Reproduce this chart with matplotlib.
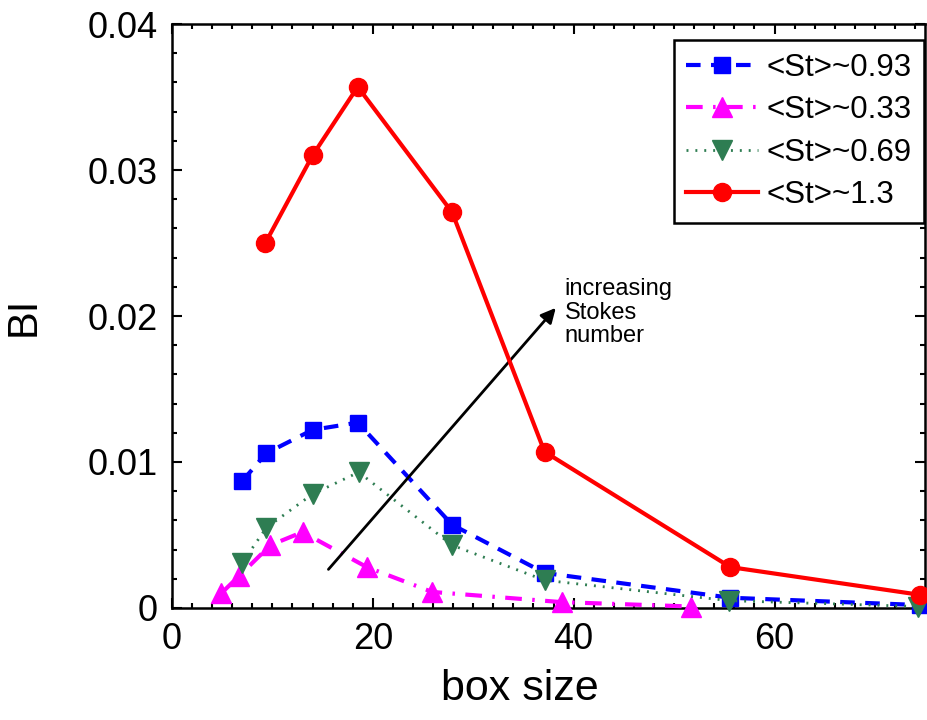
import matplotlib.pyplot as plt
from matplotlib.ticker import MultipleLocator

plt.rcParams['font.family'] = ['Liberation Sans', 'DejaVu Sans']

# <St>~0.93
x_093 = [7.0, 9.4, 14.0, 18.5, 27.9, 37.1, 55.6, 74.5]
y_093 = [0.0087, 0.0106, 0.0122, 0.0127, 0.0057, 0.0024, 0.0007, 0.0002]
# <St>~0.33
x_033 = [4.9, 6.7, 9.8, 13.0, 19.4, 25.9, 38.8, 51.7]
y_033 = [0.0010, 0.0022, 0.0043, 0.0052, 0.0028, 0.0011, 0.0004, 0.0001]
# <St>~0.69
x_069 = [7.0, 9.4, 14.0, 18.6, 27.9, 37.1, 55.5, 74.3]
y_069 = [0.0031, 0.0055, 0.0078, 0.0093, 0.0043, 0.0019, 0.0005, 0.0001]
# <St>~1.3
x_13 = [9.3, 14.0, 18.5, 27.9, 37.1, 55.6, 74.5]
y_13 = [0.0250, 0.0310, 0.0357, 0.0271, 0.0107, 0.0028, 0.0009]

fig = plt.figure(figsize=(9.27, 7.2), dpi=100)
ax = fig.add_axes([0.1855, 0.1556, 0.8125, 0.811])

ax.plot(x_093, y_093, color='blue', linestyle=(0, (3.5, 2.5)), lw=3,
        marker='s', markersize=11, label='<St>~0.93', clip_on=False, zorder=3)
ax.plot(x_033, y_033, color='magenta', linestyle=(0, (4, 2.5, 0.6, 2.5)), lw=3,
        marker='^', markersize=14, label='<St>~0.33', clip_on=False, zorder=3)
ax.plot(x_069, y_069, color='#2e7d52', linestyle=(0, (0.7, 2.5)), lw=2,
        marker='v', markersize=14, label='<St>~0.69', clip_on=False, zorder=3)
ax.plot(x_13, y_13, color='red', linestyle='-', lw=3,
        marker='o', markersize=13, label='<St>~1.3', clip_on=False, zorder=4)

ax.annotate('', xy=(38.4, 0.0207), xytext=(15.4, 0.0025),
            arrowprops=dict(arrowstyle='-|>', color='black', lw=2,
                            mutation_scale=22))
ax.text(39.1, 0.0226, 'increasing\nStokes\nnumber', fontsize=17,
        va='top', ha='left', linespacing=1.1)

ax.set_xlim(0, 75)
ax.set_ylim(0, 0.04)
ax.xaxis.set_major_locator(MultipleLocator(20))
ax.xaxis.set_minor_locator(MultipleLocator(2))
ax.yaxis.set_minor_locator(MultipleLocator(0.002))
ax.set_yticks([0, 0.01, 0.02, 0.03, 0.04])
ax.set_yticklabels(['0', '0.01', '0.02', '0.03', '0.04'])
ax.tick_params(which='both', direction='in', top=True, right=True,
               labelsize=26, width=1.5)
ax.tick_params(which='major', length=7, pad=10)
ax.tick_params(which='minor', length=3.5)
for s in ax.spines.values():
    s.set_linewidth(1.8)

ax.set_xlabel('box size', fontsize=31)
ax.xaxis.set_label_coords(0.462, -0.105)
ax.set_ylabel('BI', fontsize=30)
ax.yaxis.set_label_coords(-0.17, 0.5)

leg = ax.legend(loc='upper right', fontsize=22.5, frameon=True, fancybox=False,
                edgecolor='black', handlelength=2.3, borderpad=0.4,
                labelspacing=0.4, handletextpad=0.25, borderaxespad=0,
                bbox_to_anchor=(0.998, 0.9726))
leg.get_frame().set_linewidth(1.8)
leg.get_frame().set_alpha(1)

fig.savefig('out.png', dpi=100)
